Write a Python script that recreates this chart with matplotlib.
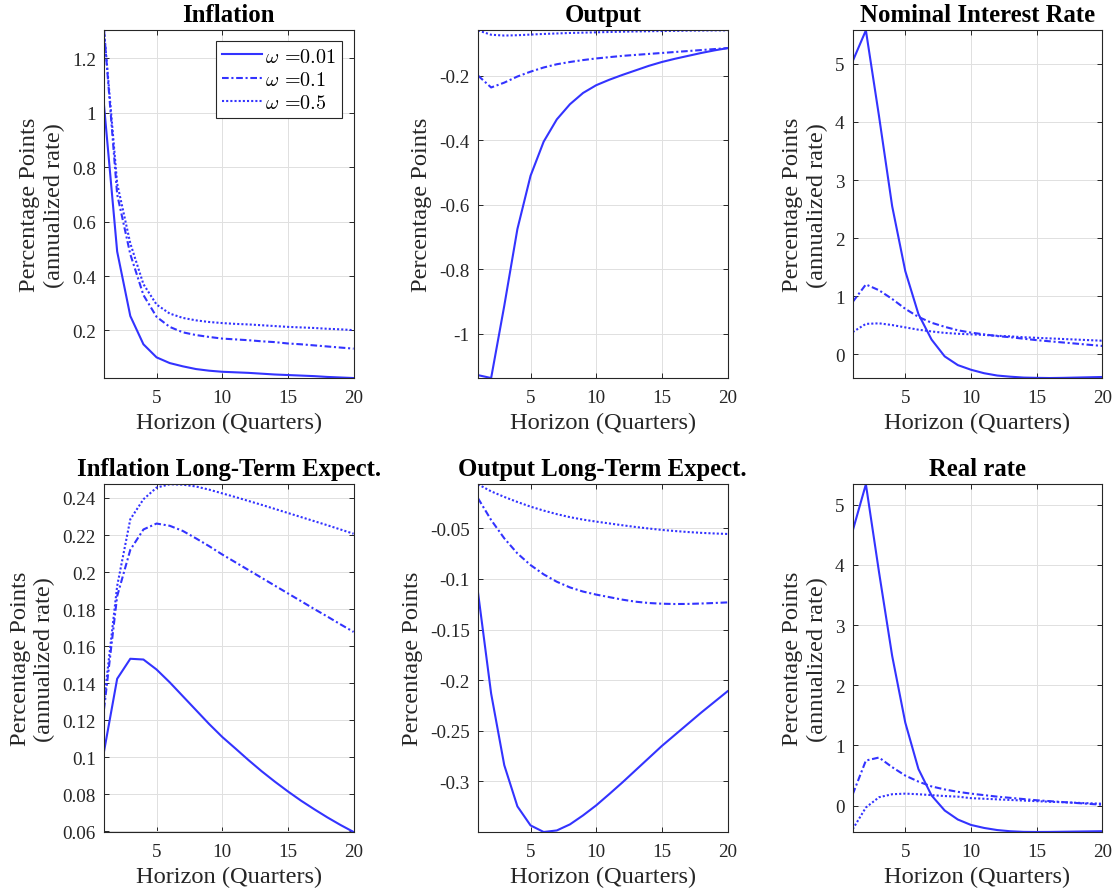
import matplotlib
matplotlib.use("Agg")
import matplotlib.pyplot as plt
from matplotlib.ticker import FixedLocator, FuncFormatter

# ---------------- data ----------------
horizon = list(range(1, 21))
omega_labels = [r"$\omega$ =0.01", r"$\omega$ =0.1", r"$\omega$ =0.5"]

titles = ["Inflation", "Output", "Nominal Interest Rate",
          "Inflation Long-Term Expect.", "Output Long-Term Expect.", "Real rate"]
ylabels = ["Percentage Points\n(annualized rate)", "Percentage Points",
           "Percentage Points\n(annualized rate)", "Percentage Points\n(annualized rate)",
           "Percentage Points", "Percentage Points\n(annualized rate)"]
xlabel = "Horizon (Quarters)"
xticks = [5, 10, 15, 20]

infl_w001 = [1.027, 0.490, 0.253, 0.149, 0.101, 0.080, 0.068, 0.058, 0.052, 0.048,
             0.046, 0.044, 0.041, 0.038, 0.036, 0.034, 0.032, 0.029, 0.027, 0.025]
infl_w01 = [1.303, 0.70, 0.48, 0.33, 0.25, 0.213, 0.193, 0.183, 0.176, 0.170,
            0.167, 0.164, 0.160, 0.157, 0.152, 0.149, 0.145, 0.141, 0.137, 0.133]
infl_w05 = [1.303, 0.74, 0.52, 0.37, 0.295, 0.262, 0.246, 0.237, 0.231, 0.227,
            0.224, 0.222, 0.219, 0.216, 0.213, 0.211, 0.209, 0.206, 0.204, 0.201]

out_w001 = [-1.129, -1.138, -0.914, -0.676, -0.511, -0.405, -0.336, -0.289, -0.254, -0.230,
            -0.213, -0.198, -0.184, -0.170, -0.158, -0.148, -0.139, -0.130, -0.122, -0.115]
out_w01 = [-0.200, -0.237, -0.222, -0.203, -0.188, -0.175, -0.165, -0.158, -0.152, -0.147,
           -0.143, -0.139, -0.136, -0.133, -0.130, -0.127, -0.124, -0.121, -0.118, -0.115]
out_w05 = [-0.0600, -0.0735, -0.0760, -0.0750, -0.0730, -0.0710, -0.0695, -0.0680, -0.0670, -0.0660,
           -0.0650, -0.0640, -0.0633, -0.0626, -0.0620, -0.0614, -0.0608, -0.0604, -0.0601, -0.0598]

nom_w001 = [5.05, 5.58, 4.10, 2.55, 1.43, 0.69, 0.25, -0.04, -0.19, -0.27,
            -0.33, -0.37, -0.39, -0.405, -0.41, -0.413, -0.41, -0.405, -0.40, -0.395]
nom_w01 = [0.90, 1.20, 1.10, 0.95, 0.78, 0.64, 0.54, 0.47, 0.41, 0.37,
           0.34, 0.31, 0.29, 0.265, 0.24, 0.22, 0.20, 0.18, 0.16, 0.14]
nom_w05 = [0.38, 0.52, 0.53, 0.50, 0.46, 0.42, 0.39, 0.365, 0.35, 0.34,
           0.33, 0.315, 0.305, 0.29, 0.28, 0.27, 0.26, 0.25, 0.24, 0.23]

ilte_w001 = [0.1032, 0.1424, 0.1532, 0.1528, 0.1474, 0.1405, 0.1330, 0.1255, 0.1180, 0.1110,
             0.1048, 0.0985, 0.0925, 0.0869, 0.0816, 0.0766, 0.0720, 0.0676, 0.0635, 0.0597]
ilte_w01 = [0.126, 0.187, 0.212, 0.223, 0.2262, 0.2250, 0.2222, 0.2182, 0.2140, 0.2095,
            0.2053, 0.2011, 0.1969, 0.1927, 0.1885, 0.1843, 0.1801, 0.1760, 0.1718, 0.1677]
ilte_w05 = [0.130, 0.1925, 0.2285, 0.2393, 0.2456, 0.2474, 0.2472, 0.2462, 0.2445, 0.2425,
            0.2405, 0.2384, 0.2363, 0.2341, 0.2319, 0.2297, 0.2275, 0.2253, 0.2230, 0.2207]

olte_w001 = [-0.1133, -0.2133, -0.2840, -0.3247, -0.3435, -0.3500, -0.3485, -0.3425, -0.3336, -0.3237,
             -0.3125, -0.3010, -0.2890, -0.2770, -0.2650, -0.2540, -0.2430, -0.2320, -0.2215, -0.2110]
olte_w01 = [-0.0203, -0.0418, -0.0599, -0.0748, -0.0863, -0.0955, -0.1028, -0.1084, -0.1125, -0.1155,
            -0.1180, -0.1205, -0.1225, -0.1238, -0.1245, -0.1248, -0.1247, -0.1243, -0.1238, -0.1232]
olte_w05 = [-0.0065, -0.0135, -0.0190, -0.0240, -0.0286, -0.0325, -0.0360, -0.0390, -0.0414, -0.0434,
            -0.0452, -0.0470, -0.0487, -0.0502, -0.0516, -0.0527, -0.0537, -0.0545, -0.0551, -0.0556]

real_w001 = [4.57, 5.34, 3.88, 2.49, 1.38, 0.61, 0.17, -0.08, -0.23, -0.32,
             -0.37, -0.405, -0.425, -0.435, -0.437, -0.436, -0.433, -0.430, -0.427, -0.424]
real_w01 = [0.19, 0.75, 0.80, 0.64, 0.50, 0.40, 0.32, 0.27, 0.23, 0.20,
            0.175, 0.15, 0.13, 0.11, 0.09, 0.075, 0.06, 0.045, 0.03, 0.015]
real_w05 = [-0.39, -0.03, 0.14, 0.19, 0.20, 0.19, 0.175, 0.16, 0.15, 0.125,
            0.115, 0.105, 0.095, 0.085, 0.075, 0.065, 0.057, 0.048, 0.04, 0.032]

yticks = [
    [0.2, 0.4, 0.6, 0.8, 1.0, 1.2],
    [-1.0, -0.8, -0.6, -0.4, -0.2],
    [0, 1, 2, 3, 4, 5],
    [0.06, 0.08, 0.10, 0.12, 0.14, 0.16, 0.18, 0.20, 0.22, 0.24],
    [-0.3, -0.25, -0.2, -0.15, -0.1, -0.05],
    [0, 1, 2, 3, 4, 5],
]

panels = [
    (infl_w001, infl_w01, infl_w05),
    (out_w001, out_w01, out_w05),
    (nom_w001, nom_w01, nom_w05),
    (ilte_w001, ilte_w01, ilte_w05),
    (olte_w001, olte_w01, olte_w05),
    (real_w001, real_w01, real_w05),
]

# ---------------- style ----------------
plt.rcParams["font.family"] = ["Liberation Serif", "DejaVu Serif"]
plt.rcParams["mathtext.fontset"] = "cm"
plt.rcParams["axes.unicode_minus"] = False

blue = "#3333ff"
styles = [dict(linestyle="-"),
          dict(linestyle=(0, (3.2, 1.3, 1.0, 1.3))),
          dict(linestyle=(0, (1.0, 1.0)))]

fig = plt.figure(figsize=(11.15, 8.95), dpi=100)
lefts = [0.0933, 0.4287, 0.7648]
bottoms = [0.5765, 0.0693]
w, h = 0.2238, 0.3885

fmt = FuncFormatter(lambda v, p: "%g" % v)

for i, (series, title, ylab, yt) in enumerate(zip(panels, titles, ylabels, yticks)):
    r, c = divmod(i, 3)
    ax = fig.add_axes([lefts[c], bottoms[r], w, h])
    for s, st, lab in zip(series, styles, omega_labels):
        ax.plot(horizon, s, color=blue, linewidth=1.5, label=lab, **st)
    allv = [v for s in series for v in s]
    ax.set_xlim(1, 20)
    ax.set_ylim(min(allv), max(allv))
    ax.xaxis.set_major_locator(FixedLocator(xticks))
    ax.yaxis.set_major_locator(FixedLocator(yt))
    ax.xaxis.set_major_formatter(fmt)
    ax.yaxis.set_major_formatter(fmt)
    ax.grid(True, color="#e0e0e0", linewidth=0.7)
    ax.set_axisbelow(True)
    ax.tick_params(direction="in", top=True, right=True, length=3.5, width=0.7,
                   labelsize=13.8, colors="#262626")
    ax.tick_params(axis="x", pad=8)
    ax.tick_params(axis="y", pad=6)
    for sp in ax.spines.values():
        sp.set_color("#262626")
        sp.set_linewidth(0.8)
    ax.set_title(title, fontsize=17.8, fontweight="bold", pad=7)
    ax.set_xlabel(xlabel, fontsize=17.6, color="#262626", labelpad=4)
    ax.set_ylabel(ylab, fontsize=17.6, color="#262626", labelpad=5, linespacing=1.2)
    if i == 0:
        leg = ax.legend(loc="upper right", prop={"family": "cmr10", "size": 14.5},
                        handlelength=2.0, handletextpad=0.15, labelspacing=0.25,
                        borderpad=0.3, borderaxespad=0.55, fancybox=False,
                        framealpha=1, edgecolor="#262626")
        leg.get_frame().set_linewidth(0.8)

fig.savefig("out.png", dpi=100)
